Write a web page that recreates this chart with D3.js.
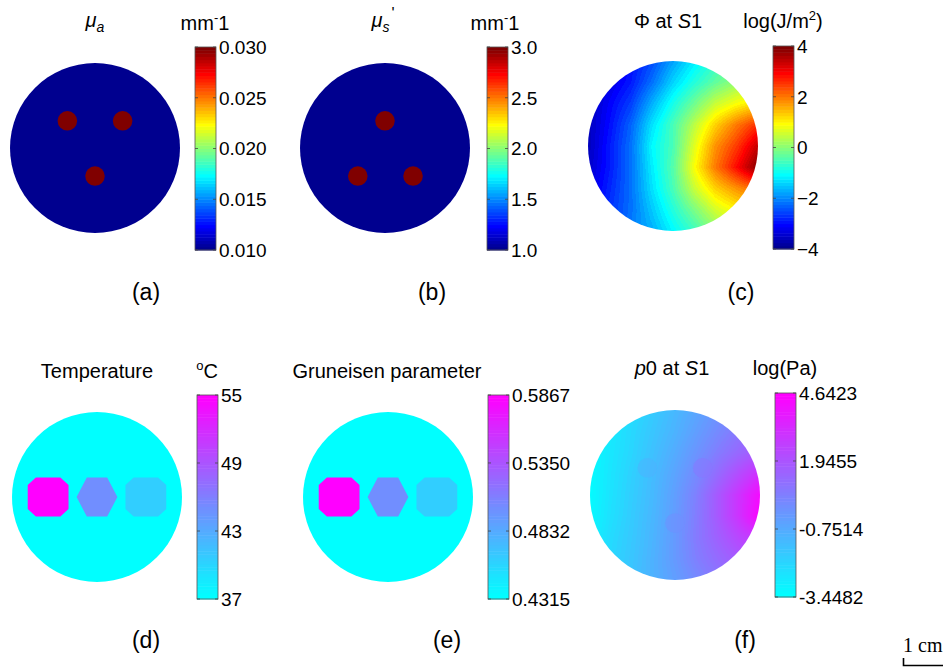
<!DOCTYPE html>
<html>
<head>
<meta charset="utf-8">
<script src="https://cdn.jsdelivr.net/npm/d3@7"></script>
<style>
  body { margin: 0; background: #fff; }
  text { font-family: Arial, "Liberation Sans", sans-serif; fill: #000; }
</style>
</head>
<body>
<svg id="fig" width="943" height="668"></svg>
<script>
// ---- data (positions in mm, phantom radius 20 mm, y grows downward) ----
var phantomR = 20;
var inclusionR = 2.3;
var absorbers = [[-6.5, -6.4], [6.5, -6.4], [0, 6.6]];
var scatterers = [[0, -6.4], [-6.4, 6.6], [6.6, 6.6]];

var muaTicks = [0.010, 0.015, 0.020, 0.025, 0.030];
var muaBackground = 0.010, muaInclusion = 0.030;
var musTicks = [1.0, 1.5, 2.0, 2.5, 3.0];
var musBackground = 1.0, musInclusion = 3.0;

var phiTicks = [-4, -2, 0, 2, 4];
var gridPos = [-20, -15, -10, -5, 0, 5, 10, 15, 20];
// log fluence, rows = y, cols = x
var phiGrid = [
  [-3.6, -3.4, -3.0, -2.5, -1.8, -1.2, -0.7, -0.3, 0.0],
  [-3.6, -3.3, -2.9, -2.2, -1.4, -0.8, -0.3, 0.1, 0.3],
  [-3.6, -3.1, -2.6, -1.7, -0.9, -0.2, 0.5, 0.9, 1.2],
  [-3.6, -3.0, -2.3, -1.3, -0.5, 0.4, 1.3, 2.0, 2.6],
  [-3.6, -2.9, -2.2, -1.1, -0.5, 0.7, 1.8, 2.5, 3.4],
  [-3.5, -2.9, -2.2, -1.2, -0.4, 0.9, 2.0, 2.9, 3.9],
  [-3.4, -2.8, -2.2, -1.3, -0.5, 0.5, 1.3, 1.8, 2.2],
  [-3.2, -2.7, -2.2, -1.5, -0.8, -0.1, 0.6, 1.0, 1.2],
  [-3.0, -2.6, -2.1, -1.7, -1.1, -0.6, 0.0, 0.4, 0.6]
];

var tempTicks = [37, 43, 49, 55];
var gruTicks = [0.4315, 0.4832, 0.5350, 0.5867];
var baseTemp = 37, baseGru = 0.4315;
var heatedX = [-11.5, 0, 11.5];
var heatedShape = ["oct", "hex", "oct"];
var heatedTemp = [55, 45, 40.6];
var heatedGru = [0.5867, 0.4998, 0.4625];

var p0Ticks = [-3.4482, -0.7514, 1.9455, 4.6423];
// log pressure
var p0Grid = [
  [-3.29, -2.80, -2.32, -1.75, -1.18, -0.62, -0.05, 0.44, 0.76],
  [-3.29, -2.72, -2.15, -1.59, -1.02, -0.37, 0.27, 0.84, 1.24],
  [-3.29, -2.64, -2.07, -1.43, -0.78, -0.05, 0.68, 1.33, 1.89],
  [-3.29, -2.56, -1.91, -1.26, -0.54, 0.27, 1.24, 2.22, 3.19],
  [-3.29, -2.48, -1.83, -1.18, -0.37, 0.60, 1.81, 3.02, 4.24],
  [-3.21, -2.40, -1.75, -1.10, -0.29, 0.68, 1.81, 3.02, 4.48],
  [-3.04, -2.24, -1.67, -1.02, -0.21, 0.76, 1.57, 2.38, 3.02],
  [-2.88, -2.15, -1.59, -0.94, -0.21, 0.60, 1.24, 1.81, 2.22],
  [-2.80, -2.15, -1.51, -0.94, -0.37, 0.27, 0.84, 1.24, 1.57]
];
var p0Inclusion = [-1.0, 0.9, 0.1];

// ---- colormaps (matlab jet(64) / cool(64)) ----
function ju(i) {
  if (i < 1 || i > 47) return 0;
  if (i <= 16) return i / 16;
  if (i <= 31) return 1;
  return (48 - i) / 16;
}
function jet(k) {
  var j = k + 1;
  return [ju(j - 24), ju(j - 8), ju(j + 8)];
}
function cool(k) {
  return [k / 63, 1 - k / 63, 1];
}
function rgbStr(c) {
  return d3.rgb(c[0] * 255, c[1] * 255, c[2] * 255).formatHex();
}
function level(v, lo, hi) {
  var k = Math.floor((v - lo) / (hi - lo) * 64);
  return Math.max(0, Math.min(63, k));
}

var svg = d3.select("#fig");
var pxR = 85;

function mmScales(cx, cy) {
  return {
    x: d3.scaleLinear().domain([-phantomR, phantomR]).range([cx - pxR, cx + pxR]),
    y: d3.scaleLinear().domain([-phantomR, phantomR]).range([cy - pxR, cy + pxR])
  };
}

function colorbar(x, top, bottom, cmap, ticks, fmt) {
  var g = svg.append("g");
  var h = (bottom - top) / 64;
  var w = 21;
  d3.range(64).forEach(function (k) {
    g.append("rect")
      .attr("x", x).attr("y", bottom - (k + 1) * h)
      .attr("width", w).attr("height", h + 0.5)
      .attr("fill", rgbStr(cmap(k)));
  });
  var sc = d3.scaleLinear().domain([ticks[0], ticks[ticks.length - 1]]).range([bottom, top]);
  g.append("rect").attr("x", x).attr("y", top).attr("width", w).attr("height", bottom - top)
    .attr("fill", "none").attr("stroke", "#555").attr("stroke-width", 0.8);
  ticks.forEach(function (t) {
    var yy = sc(t);
    g.append("line").attr("x1", x).attr("x2", x + 3).attr("y1", yy).attr("y2", yy)
      .attr("stroke", "#444").attr("stroke-width", 0.8);
    g.append("line").attr("x1", x + w - 3).attr("x2", x + w).attr("y1", yy).attr("y2", yy)
      .attr("stroke", "#444").attr("stroke-width", 0.8);
    g.append("text").attr("x", x + w + 3).attr("y", yy).attr("dy", "0.36em")
      .attr("font-size", 19).text(fmt(t));
  });
}

function fieldImage(grid, cmap, lo, hi, cx, cy, id) {
  var size = 2 * pxR;
  var cv = document.createElement("canvas");
  cv.width = size; cv.height = size;
  var ctx = cv.getContext("2d");
  var img = ctx.createImageData(size, size);
  var n = gridPos.length;
  var step = gridPos[1] - gridPos[0];
  for (var py = 0; py < size; py++) {
    for (var px = 0; px < size; px++) {
      var xm = -phantomR + (px + 0.5) / size * 2 * phantomR;
      var ym = -phantomR + (py + 0.5) / size * 2 * phantomR;
      var gx = Math.min(n - 1.001, Math.max(0, (xm - gridPos[0]) / step));
      var gy = Math.min(n - 1.001, Math.max(0, (ym - gridPos[0]) / step));
      var ix = Math.floor(gx), iy = Math.floor(gy);
      var fx = gx - ix, fy = gy - iy;
      var v = grid[iy][ix] * (1 - fx) * (1 - fy) + grid[iy][ix + 1] * fx * (1 - fy) +
              grid[iy + 1][ix] * (1 - fx) * fy + grid[iy + 1][ix + 1] * fx * fy;
      var c = cmap(level(v, lo, hi));
      var o = (py * size + px) * 4;
      img.data[o] = c[0] * 255; img.data[o + 1] = c[1] * 255; img.data[o + 2] = c[2] * 255; img.data[o + 3] = 255;
    }
  }
  ctx.putImageData(img, 0, 0);
  svg.append("clipPath").attr("id", id).append("circle")
    .attr("cx", cx).attr("cy", cy).attr("r", pxR);
  svg.append("image").attr("href", cv.toDataURL())
    .attr("x", cx - pxR).attr("y", cy - pxR).attr("width", size).attr("height", size)
    .attr("clip-path", "url(#" + id + ")");
}

function shapePoints(kind, cx, cy, w, h) {
  var pts;
  if (kind === "hex") {
    pts = [[-w, 0], [-w / 2, -h], [w / 2, -h], [w, 0], [w / 2, h], [-w / 2, h]];
  } else {
    pts = [[-w, -0.62 * h], [-0.6 * w, -h], [0.6 * w, -h], [w, -0.62 * h],
           [w, 0.62 * h], [0.6 * w, h], [-0.6 * w, h], [-w, 0.62 * h]];
  }
  return pts.map(function (p) { return [cx + p[0], cy + p[1]]; });
}

function label(x, y, s) {
  svg.append("text").attr("x", x).attr("y", y).attr("text-anchor", "middle")
    .attr("font-size", 23).text(s);
}

var fmtMinus = function (f) { return function (v) { return f(v).replace("\u2212", "-"); }; };

// ---------- (a) mu_a ----------
(function () {
  var cx = 95, cy = 148, s = mmScales(cx, cy);
  svg.append("circle").attr("cx", cx).attr("cy", cy).attr("r", pxR)
    .attr("fill", rgbStr(jet(level(muaBackground, 0.010, 0.030))));
  svg.selectAll(null).data(absorbers).enter().append("circle")
    .attr("cx", function (d) { return s.x(d[0]); }).attr("cy", function (d) { return s.y(d[1]); })
    .attr("r", s.x(inclusionR) - s.x(0))
    .attr("fill", rgbStr(jet(level(muaInclusion, 0.010, 0.030))));
  colorbar(cx + 100, 47, 250, jet, muaTicks, d3.format(".3f"));
  var t = svg.append("text").attr("x", cx).attr("y", 27).attr("text-anchor", "middle").attr("font-size", 20);
  t.append("tspan").attr("font-style", "italic").text("\u03bc");
  t.append("tspan").attr("font-style", "italic").attr("font-size", 14).attr("dy", 5).text("a");
  var u = svg.append("text").attr("x", cx + 110).attr("y", 30).attr("text-anchor", "middle").attr("font-size", 20);
  u.append("tspan").text("mm");
  u.append("tspan").attr("font-size", 13).attr("dy", -8).text("-");
  u.append("tspan").attr("dy", 8).text("1");
  label(146, 300, "(a)");
})();

// ---------- (b) mu_s' ----------
(function () {
  var cx = 385, cy = 148, s = mmScales(cx, cy);
  svg.append("circle").attr("cx", cx).attr("cy", cy).attr("r", pxR)
    .attr("fill", rgbStr(jet(level(musBackground, 1, 3))));
  svg.selectAll(null).data(scatterers).enter().append("circle")
    .attr("cx", function (d) { return s.x(d[0]); }).attr("cy", function (d) { return s.y(d[1]); })
    .attr("r", s.x(inclusionR) - s.x(0))
    .attr("fill", rgbStr(jet(level(musInclusion, 1, 3))));
  colorbar(cx + 102, 47, 250, jet, musTicks, d3.format(".1f"));
  var t = svg.append("text").attr("x", cx - 2).attr("y", 27).attr("text-anchor", "middle").attr("font-size", 20);
  t.append("tspan").attr("font-style", "italic").text("\u03bc");
  t.append("tspan").attr("font-style", "italic").attr("font-size", 14).attr("dy", 5).text("s");
  t.append("tspan").attr("font-size", 16).attr("dx", 2).attr("dy", -13).text("'");
  var u = svg.append("text").attr("x", cx + 110).attr("y", 30).attr("text-anchor", "middle").attr("font-size", 20);
  u.append("tspan").text("mm");
  u.append("tspan").attr("font-size", 13).attr("dy", -8).text("-");
  u.append("tspan").attr("dy", 8).text("1");
  label(432, 300, "(b)");
})();

// ---------- (c) fluence ----------
(function () {
  var cx = 673, cy = 146;
  fieldImage(phiGrid, jet, -4, 4, cx, cy, "clipC");
  colorbar(cx + 100, 46, 249, jet, phiTicks, d3.format("d"));
  var t = svg.append("text").attr("x", cx - 5).attr("y", 28).attr("text-anchor", "middle").attr("font-size", 20);
  t.append("tspan").text("\u03a6 at ");
  t.append("tspan").attr("font-style", "italic").text("S");
  t.append("tspan").text("1");
  var u = svg.append("text").attr("x", cx + 110).attr("y", 28).attr("text-anchor", "middle").attr("font-size", 20);
  u.append("tspan").text("log(J/m");
  u.append("tspan").attr("font-size", 13).attr("dy", -8).text("2");
  u.append("tspan").attr("dy", 8).text(")");
  label(741, 300, "(c)");
})();

// ---------- (d) temperature, (e) Gruneisen ----------
function heatedPanel(cx, cy, base, values, lo, hi, ticks, fmt) {
  var s = mmScales(cx, cy);
  svg.append("circle").attr("cx", cx).attr("cy", cy).attr("r", pxR)
    .attr("fill", rgbStr(cool(level(base, lo, hi))));
  var w = s.x(4.8) - s.x(0), h = s.y(4.6) - s.y(0);
  heatedX.forEach(function (xm, i) {
    svg.append("polygon")
      .attr("points", shapePoints(heatedShape[i], s.x(xm), cy, w, h).join(" "))
      .attr("fill", rgbStr(cool(level(values[i], lo, hi))));
  });
  colorbar(cx + 100, 395, 599, cool, ticks, fmt);
}

heatedPanel(97, 497, baseTemp, heatedTemp, 37, 55, tempTicks, d3.format("d"));
svg.append("text").attr("x", 97).attr("y", 378).attr("text-anchor", "middle").attr("font-size", 20).text("Temperature");
(function () {
  var u = svg.append("text").attr("x", 207).attr("y", 378).attr("text-anchor", "middle").attr("font-size", 20);
  u.append("tspan").attr("font-size", 13).attr("dy", -8).text("o");
  u.append("tspan").attr("dy", 8).text("C");
})();
label(146, 648, "(d)");

heatedPanel(388, 497, baseGru, heatedGru, 0.4315, 0.5867, gruTicks, d3.format(".4f"));
svg.append("text").attr("x", 387).attr("y", 378).attr("text-anchor", "middle").attr("font-size", 20).text("Gruneisen parameter");
label(447, 648, "(e)");

// ---------- (f) initial pressure ----------
(function () {
  var cx = 675, cy = 495, s = mmScales(cx, cy);
  var lo = p0Ticks[0], hi = p0Ticks[p0Ticks.length - 1];
  fieldImage(p0Grid, cool, lo, hi, cx, cy, "clipF");
  svg.selectAll(null).data(absorbers).enter().append("circle")
    .attr("cx", function (d) { return s.x(d[0]); }).attr("cy", function (d) { return s.y(d[1]); })
    .attr("r", s.x(inclusionR) - s.x(0))
    .attr("fill", function (d, i) { return rgbStr(cool(level(p0Inclusion[i], lo, hi))); })
    .attr("opacity", 0.5);
  colorbar(cx + 100, 393, 597, cool, p0Ticks, fmtMinus(d3.format(".4f")));
  var t = svg.append("text").attr("x", cx - 3).attr("y", 375).attr("text-anchor", "middle").attr("font-size", 20);
  t.append("tspan").attr("font-style", "italic").text("p");
  t.append("tspan").text("0 at ");
  t.append("tspan").attr("font-style", "italic").text("S");
  t.append("tspan").text("1");
  svg.append("text").attr("x", cx + 110).attr("y", 375).attr("text-anchor", "middle").attr("font-size", 20).text("log(Pa)");
  label(745, 648, "(f)");
})();

// ---------- scale bar ----------
svg.append("text").attr("x", 903).attr("y", 652)
  .style("font-family", "'Liberation Serif', 'Times New Roman', serif")
  .attr("font-size", 20).text("1 cm");
svg.append("path").attr("d", "M903.5,658 V665.5 H" + (903.5 + 42.5) + " V658")
  .attr("fill", "none").attr("stroke", "#000").attr("stroke-width", 1.6);
</script>
</body>
</html>
